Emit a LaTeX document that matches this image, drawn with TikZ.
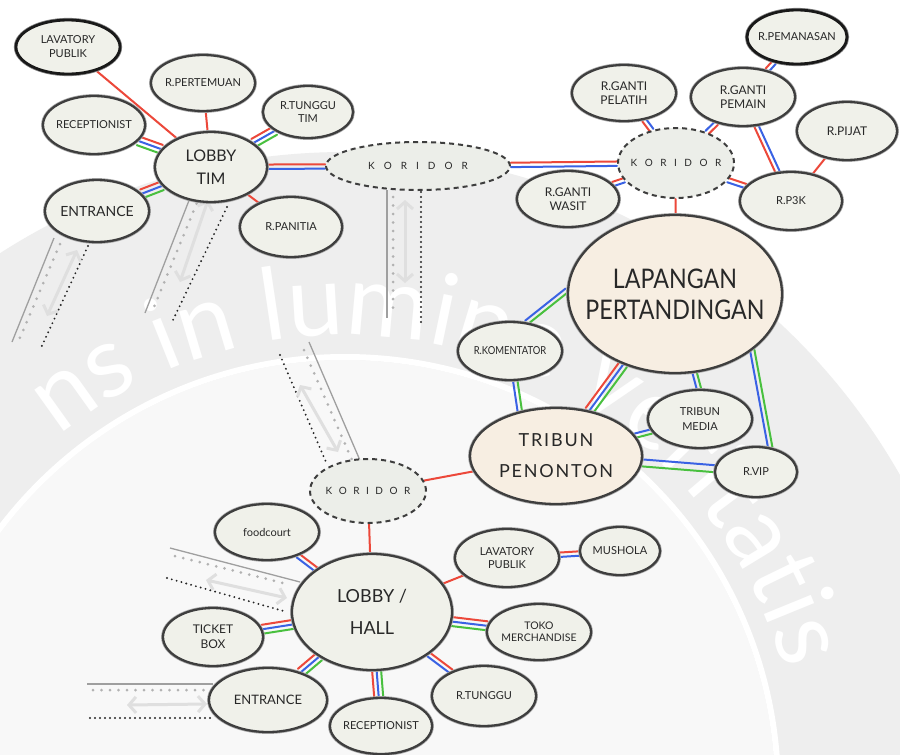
\documentclass[tikz,border=0pt]{standalone}
\usepackage{fontspec}
\setmainfont{Lato}
\newfontfamily\narrowfont[FakeStretch=0.86]{Lato}
\newfontfamily\widefont[LetterSpace=10]{Lato}
\usetikzlibrary{shapes.geometric,calc,arrows.meta,decorations.text}

\definecolor{roomfill}{RGB}{240,241,234}
\definecolor{fieldfill}{RGB}{247,238,226}
\definecolor{corrfill}{RGB}{236,238,233}
\definecolor{inkline}{RGB}{62,62,62}
\definecolor{inkdark}{RGB}{25,25,25}
\definecolor{inktext}{RGB}{40,40,40}
\definecolor{wred}{RGB}{236,72,58}
\definecolor{wblue}{RGB}{58,98,228}
\definecolor{wgreen}{RGB}{72,192,62}
\definecolor{ringgray}{RGB}{238,238,238}
\definecolor{discgray}{RGB}{248,248,248}

\pgfdeclarelayer{bg}
\pgfdeclarelayer{wires}
\pgfsetlayers{bg,wires,main}

% corridor name with spread letters
\newcommand{\spelled}[1]{K\hspace{#1}O\hspace{#1}R\hspace{#1}I\hspace{#1}D\hspace{#1}O\hspace{#1}R}
% motto lettering
\newcommand{\mottostyle}{\fontsize{100}{100}\selectfont\color{white}}

% parallel coloured links between two rooms: list of offset/colour
\newcommand{\roomwire}[3]{%
  \path (#1) -- (#2) coordinate[pos=0] (w-s) coordinate[pos=1] (w-e);
  \foreach \off/\col in {#3}{%
    \draw[wireline,\col] ($(w-s)!\off!90:(w-e)$) -- ($(w-e)!\off!-90:(w-s)$);
  }%
}

\tikzset{
  room/.style 2 args={ellipse, minimum width=#1, minimum height=#2, inner sep=0pt,
    fill=roomfill, draw=inkline, line width=2.3pt,
    preaction={draw=inkline!45, line width=3.8pt}},
  keyroom/.style={draw=inkdark, line width=2.8pt, preaction={draw=inkdark!50, line width=4.2pt}},
  field/.style={fill=fieldfill},
  corridor/.style 2 args={ellipse, minimum width=#1, minimum height=#2, inner sep=0pt,
    fill=corrfill, draw=inkline, line width=2pt, dash pattern=on 5pt off 4pt},
  lbl/.style 2 args={font=\fontsize{#1}{#2}\selectfont, align=center, text=inktext, inner sep=0pt},
  wireline/.style={line width=2pt, line cap=round},
  cline/.style={draw=gray!75, line width=1.3pt},
  cdots/.style={draw=gray!60, line width=3pt, line cap=round, dash pattern=on 0pt off 8.5pt},
  cdark/.style={draw=black!85, line width=2.1pt, line cap=round, dash pattern=on 0pt off 5pt},
  carrow/.style={draw=gray!25, line width=3pt,
    arrows={Straight Barb[length=7pt,width=16pt]-Straight Barb[length=7pt,width=16pt]}},
}

\begin{document}
\begin{tikzpicture}[x=1pt,y=-1pt]
\useasboundingbox (0,0) rectangle (900,755);

% ---------------- rooms ----------------
% team wing
\node[room={104pt}{54pt}, keyroom] (lavT) at (68,47) {};
\node[room={104pt}{56pt}] (pert) at (203,83) {};
\node[room={90pt}{52pt}] (tungT) at (308,112) {};
\node[room={102pt}{58pt}] (recT) at (94,125) {};
\node[room={112pt}{70pt}] (lobT) at (211,167) {};
\node[room={104pt}{62pt}] (entT) at (97,211) {};
\node[room={102pt}{60pt}] (pan) at (291,227) {};
\node[corridor={184pt}{48pt}] (korT) at (418,166) {};

% dressing rooms
\node[corridor={116pt}{70pt}] (korR) at (676,163) {};
\node[room={104pt}{56pt}] (pel) at (624,93) {};
\node[room={104pt}{58pt}] (pem) at (743,97) {};
\node[room={100pt}{54pt}, keyroom] (pemanasan) at (797,37) {};
\node[room={100pt}{58pt}] (pijat) at (847,131) {};
\node[room={102pt}{58pt}] (p3k) at (791,201) {};
\node[room={102pt}{56pt}] (wasit) at (568,199) {};

% field and stands
\node[room={214pt}{158pt}, field] (lap) at (675,294) {};
\node[room={104pt}{58pt}] (kom) at (510,351) {};
\node[room={172pt}{96pt}, field] (trib) at (556,456) {};
\node[room={104pt}{58pt}] (med) at (700,419) {};
\node[room={82pt}{50pt}] (vip) at (756,472) {};

% public wing
\node[corridor={116pt}{64pt}] (korB) at (368,491) {};
\node[room={104pt}{56pt}] (food) at (267,532) {};
\node[room={160pt}{116pt}] (hall) at (372,612) {};
\node[room={104pt}{58pt}] (lavB) at (507,558) {};
\node[room={80pt}{48pt}] (mush) at (620,551) {};
\node[room={104pt}{56pt}] (toko) at (539,632) {};
\node[room={100pt}{58pt}] (ticket) at (213,637) {};
\node[room={118pt}{64pt}] (entB) at (268,700) {};
\node[room={102pt}{56pt}] (recB) at (381,726) {};
\node[room={104pt}{60pt}] (tungB) at (484,696) {};

% ---------------- labels ----------------
\node[lbl={11pt}{14pt}] (lavT-t) at (lavT) {LAVATORY\\PUBLIK};
\node[lbl={11pt}{13pt}] (pert-t) at (pert) {R.PERTEMUAN};
\node[lbl={11pt}{13pt}] (tungT-t) at (tungT) {R.TUNGGU\\TIM};
\node[lbl={11pt}{13pt}] (recT-t) at (recT) {RECEPTIONIST};
\node[lbl={16pt}{23pt}] (lobT-t) at (lobT) {LOBBY\\TIM};
\node[lbl={14pt}{16pt}] (entT-t) at (entT) {ENTRANCE};
\node[lbl={11pt}{13pt}] (pan-t) at (pan) {R.PANITIA};
\node[lbl={10pt}{12pt}] (korT-t) at (korT) {\spelled{9pt}};

\node[lbl={10pt}{12pt}] (korR-t) at (korR) {\spelled{7.5pt}};
\node[lbl={12pt}{14pt}] (pel-t) at (pel) {R.GANTI\\PELATIH};
\node[lbl={12pt}{14pt}] (pem-t) at (pem) {R.GANTI\\PEMAIN};
\node[lbl={11pt}{13pt}] (pemanasan-t) at (pemanasan) {R.PEMANASAN};
\node[lbl={12pt}{14pt}] (pijat-t) at (pijat) {R.PIJAT};
\node[lbl={11pt}{13pt}] (p3k-t) at (p3k) {R.P3K};
\node[lbl={12pt}{14pt}] (wasit-t) at (wasit) {R.GANTI\\WASIT};

\node[lbl={27pt}{31pt}, font=\narrowfont\fontsize{27pt}{31pt}\selectfont] (lap-t) at (lap) {LAPANGAN\\PERTANDINGAN};
\node[lbl={11pt}{13pt}, font=\narrowfont\fontsize{11pt}{13pt}\selectfont] (kom-t) at (kom) {R.KOMENTATOR};
\node[lbl={18pt}{31pt}, font=\widefont\fontsize{18pt}{31pt}\selectfont] (trib-t) at (trib) {TRIBUN\\PENONTON};
\node[lbl={11pt}{15pt}] (med-t) at (med) {TRIBUN\\MEDIA};
\node[lbl={11pt}{13pt}] (vip-t) at (vip) {R.VIP};

\node[lbl={10pt}{12pt}] (korB-t) at (korB) {\spelled{6.5pt}};
\node[lbl={11pt}{13pt}] (food-t) at (food) {foodcourt};
\node[lbl={18pt}{32pt}] (hall-t) at (hall) {LOBBY /\\HALL};
\node[lbl={11pt}{13pt}] (lavB-t) at (lavB) {LAVATORY\\PUBLIK};
\node[lbl={11pt}{13pt}] (mush-t) at (mush) {MUSHOLA};
\node[lbl={10.5pt}{12pt}] (toko-t) at (toko) {TOKO\\MERCHANDISE};
\node[lbl={12pt}{15pt}] (ticket-t) at (ticket) {TICKET\\BOX};
\node[lbl={13pt}{15pt}] (entB-t) at (entB) {ENTRANCE};
\node[lbl={11pt}{13pt}] (recB-t) at (recB) {RECEPTIONIST};
\node[lbl={11pt}{13pt}] (tungB-t) at (tungB) {R.TUNGGU};

% ---------------- links ----------------
\begin{pgfonlayer}{wires}
\roomwire{lavT}{lobT}{0pt/wred}
\roomwire{pert}{lobT}{0pt/wred}
\roomwire{lobT}{tungT}{4.5pt/wred,0pt/wblue,-4.5pt/wgreen}
\roomwire{recT}{lobT}{4.5pt/wred,0pt/wblue,-4.5pt/wgreen}
\roomwire{entT}{lobT}{4.5pt/wred,0pt/wblue,-4.5pt/wgreen}
\roomwire{lobT}{korT}{2.2pt/wred,-2.2pt/wblue}
\roomwire{lobT}{pan}{0pt/wred}

\roomwire{korT}{korR}{2.2pt/wred,-2.2pt/wblue}
\roomwire{korR}{pel}{2.2pt/wred,-2.2pt/wblue}
\roomwire{korR}{pem}{2.2pt/wblue,-2.2pt/wred}
\roomwire{pem}{pemanasan}{2.2pt/wred,-2.2pt/wblue}
\roomwire{pem}{p3k}{-2.2pt/wred,2.2pt/wblue}
\roomwire{pijat}{p3k}{0pt/wred}
\roomwire{korR}{p3k}{2.2pt/wred,-2.2pt/wblue}
\roomwire{korR}{wasit}{-2.2pt/wred,2.2pt/wblue}
\roomwire{korR}{lap}{0pt/wred}

\roomwire{lap.178}{kom.60}{-2.2pt/wblue,2.2pt/wgreen}
\roomwire{lap}{trib}{-4.5pt/wred,0pt/wblue,4.5pt/wgreen}
\roomwire{lap.-76}{med.92}{-2.2pt/wblue,2.2pt/wgreen}
\roomwire{lap.-36}{vip.60}{-2.2pt/wblue,2.2pt/wgreen}
\roomwire{kom.-80}{trib.129}{-2.2pt/wblue,2.2pt/wgreen}
\roomwire{trib}{med}{2.2pt/wblue,-2.2pt/wgreen}
\roomwire{trib}{vip}{3.5pt/wblue,-3.5pt/wgreen}
\roomwire{korB}{trib}{0pt/wred}

\roomwire{korB}{hall}{0pt/wred}
\roomwire{food}{hall}{2.2pt/wred,-2.2pt/wblue}
\roomwire{lavB}{hall}{0pt/wred}
\roomwire{lavB}{mush}{2.2pt/wred,-2.2pt/wblue}
\roomwire{hall}{toko}{4.5pt/wred,0pt/wblue,-4.5pt/wgreen}
\roomwire{ticket}{hall}{4.5pt/wred,0pt/wblue,-4.5pt/wgreen}
\roomwire{entB}{hall}{4.5pt/wred,0pt/wblue,-4.5pt/wgreen}
\roomwire{recB}{hall}{4.5pt/wred,0pt/wblue,-4.5pt/wgreen}
\roomwire{tungB}{hall}{2.2pt/wblue,-2.2pt/wred}
\end{pgfonlayer}

% ---------------- backdrop and walkways ----------------
\begin{pgfonlayer}{bg}
\fill[white] (0,0) rectangle (900,755);
\begin{scope}
  \clip (0,0) rectangle (900,755);
  \begin{scope}[y=1pt]
    \coordinate (seal) at (345,-790);
    \fill[ringgray] (seal) circle[radius=638pt];
    \fill[discgray] (seal) circle[radius=430pt];
    \draw[white, line width=6pt] (seal) circle[radius=433pt];
    \path[decorate, decoration={text along path, text={|\mottostyle|ns in lumine veritatis}}]
      ($(seal)+(129:455pt)$) arc[start angle=129, end angle=0, radius=455pt];
  \end{scope}
\end{scope}

% walkway below the team entrance
\draw[cline] (54,238) -- (12,342);
\draw[cdots] (60,244) -- (19,340);
\draw[cdark] (88,246) -- (40,350);
\draw[carrow] (77,250) -- (47,316);
% walkway below the team lobby
\draw[cline] (197,180) -- (145,313);
\draw[cdots] (203,188) -- (152,312);
\draw[cdark] (227,207) -- (173,320);
\draw[carrow] (208,200) -- (180,282);
% walkway below the upper corridor
\draw[cline] (387,190) -- (387,318);
\draw[cdots] (393,197) -- (393,315);
\draw[cdark] (421,192) -- (421,322);
\draw[carrow] (405,200) -- (405,283);
% walkway above the lower corridor
\draw[cdark] (280,355) -- (326,462);
\draw[cline] (309,342) -- (362,465);
\draw[cdots] (304,350) -- (352,460);
\draw[carrow] (300,385) -- (338,452);
% walkway into the hall
\draw[cline] (170,548) -- (300,582);
\draw[cdots] (175,556) -- (287,584);
\draw[cdark] (167,578) -- (287,612);
\draw[carrow] (206,580) -- (287,598);
% walkway to the main entrance
\draw[cline] (87,684) -- (213,684);
\draw[cdots] (93,690) -- (210,690);
\draw[cdark] (90,718) -- (213,718);
\draw[carrow] (127,705) -- (207,704);
\end{pgfonlayer}
\end{tikzpicture}
\end{document}
